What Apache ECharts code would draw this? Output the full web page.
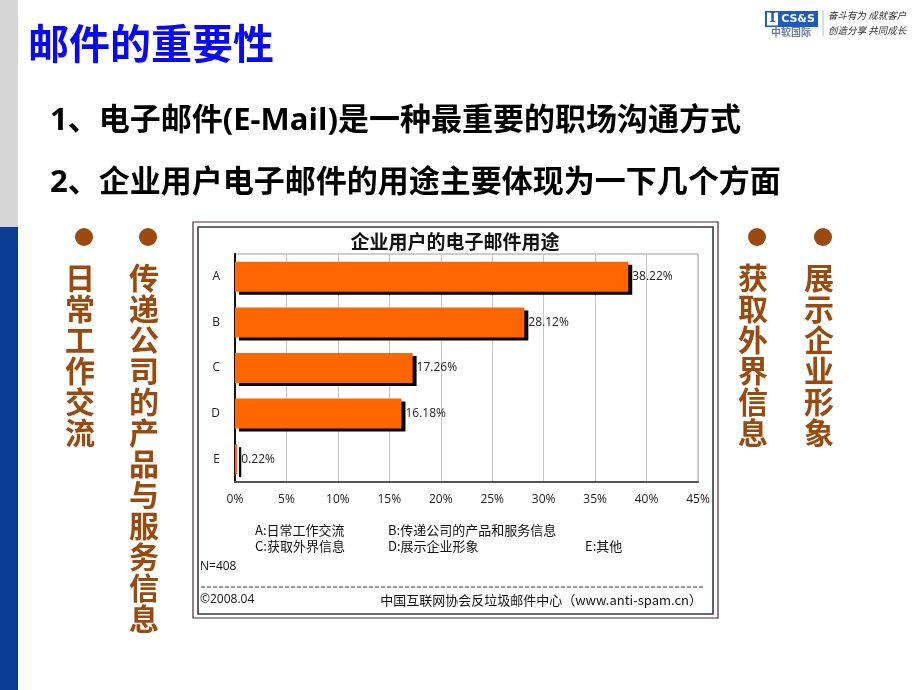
<!DOCTYPE html>
<html>
<head>
<meta charset="utf-8">
<script src="https://cdn.jsdelivr.net/npm/echarts@6/dist/echarts.min.js"></script>
<style>
  html, body { margin: 0; padding: 0; background: #fff; }
  #main { width: 920px; height: 690px; }
</style>
</head>
<body>
<div id="main"></div>
<script>
// chart data
const categories = ['A', 'B', 'C', 'D', 'E']
const values = [38.22, 28.12, 17.26, 16.18, 0.22]
const categoryNames = ['日常工作交流', '传递公司的产品和服务信息', '获取外界信息', '展示企业形象', '其他']
const xMin = 0
const xMax = 45
const xStep = 5
const sampleNote = 'N=408'
const chartTitle = '企业用户的电子邮件用途'

// slide text
const slideTitle = '邮件的重要性'
const points = ['1、电子邮件(E-Mail)是一种最重要的职场沟通方式', '2、企业用户电子邮件的用途主要体现为一下几个方面']
const sideLabels = ['日常工作交流', '传递公司的产品与服务信息', '获取外界信息', '展示企业形象']

const CJK = "'Noto Sans CJK SC', sans-serif"
const MIXED = "'Open Sans', 'Noto Sans CJK SC', sans-serif"
const BROWN = '#9a4a0e'

const myChart = echarts.init(document.getElementById('main'), null, { renderer: 'canvas' })

const graphics = []

// left strip
graphics.push({ type: 'rect', shape: { x: 0, y: 0, width: 18, height: 227 }, style: { fill: '#d6d6d6' } })
graphics.push({ type: 'rect', shape: { x: 0, y: 227, width: 18, height: 463 }, style: { fill: '#0b3d94' } })

// slide title + points
graphics.push({
  type: 'text', x: 28, y: 43,
  style: { text: slideTitle, font: `bold 41px ${CJK}`, fill: '#0a0af0', verticalAlign: 'middle' },
})
points.forEach((p, i) => {
  graphics.push({
    type: 'text', x: 50, y: 121 + i * 62,
    style: { text: p, font: `bold 31px ${MIXED}`, fill: '#000', verticalAlign: 'middle' },
  })
})

// logo (rough)
graphics.push({ type: 'rect', shape: { x: 765, y: 11, width: 53, height: 16 }, style: { fill: '#1d5cb8' } })
graphics.push({ type: 'rect', shape: { x: 767, y: 12.5, width: 11, height: 13 }, style: { fill: '#fff' } })
graphics.push({ type: 'text', x: 772.5, y: 19, style: { text: 'I', font: `bold 13px 'DejaVu Serif'`, fill: '#1d5cb8', align: 'center', verticalAlign: 'middle' } })
graphics.push({ type: 'text', x: 798, y: 19.5, style: { text: 'CS&S', font: `bold 11px 'DejaVu Sans'`, fill: '#fff', align: 'center', verticalAlign: 'middle' } })
graphics.push({ type: 'text', x: 791, y: 32, style: { text: '中软国际', font: `bold 10px ${CJK}`, fill: '#6f7f99', align: 'center', verticalAlign: 'middle' } })
graphics.push({ type: 'line', shape: { x1: 823, y1: 10, x2: 823, y2: 36 }, style: { stroke: '#bbb', lineWidth: 1 } })
graphics.push({ type: 'text', x: 828, y: 15, style: { text: '奋斗有为 成就客户', font: `italic 9.5px ${CJK}`, fill: '#333', verticalAlign: 'middle' } })
graphics.push({ type: 'text', x: 828, y: 30, style: { text: '创造分享 共同成长', font: `italic 9.5px ${CJK}`, fill: '#333', verticalAlign: 'middle' } })

// side columns with bullets
const sideX = [80, 144, 753, 819]
sideLabels.forEach((lab, i) => {
  graphics.push({ type: 'circle', shape: { cx: sideX[i] + 4, cy: 237, r: 9 }, style: { fill: BROWN } })
  graphics.push({
    type: 'text', x: sideX[i], y: 262,
    style: {
      text: lab.split('').join('\n'), font: `bold 30px ${CJK}`, lineHeight: 31,
      fill: BROWN, align: 'center', verticalAlign: 'top',
    },
  })
})

// chart frame
graphics.push({ type: 'rect', shape: { x: 193, y: 222, width: 525, height: 396 }, style: { fill: 'none', stroke: '#4a2b3c', lineWidth: 1.2 } })
graphics.push({ type: 'rect', shape: { x: 198, y: 227, width: 515, height: 387 }, style: { fill: 'none', stroke: '#3a3a3a', lineWidth: 1.6 } })
graphics.push({
  type: 'text', x: 455, y: 242,
  style: { text: chartTitle, font: `bold 19px ${CJK}`, fill: '#111', align: 'center', verticalAlign: 'middle' },
})

// legend of categories
const legendPos = [[255, 530], [388, 530], [255, 546], [388, 546], [585, 546]]
categories.forEach((c, i) => {
  graphics.push({
    type: 'text', x: legendPos[i][0], y: legendPos[i][1],
    style: { text: `${c}:${categoryNames[i]}`, font: `13px ${CJK}`, fill: '#111', verticalAlign: 'middle' },
  })
})
graphics.push({ type: 'text', x: 200, y: 567, style: { text: sampleNote, font: `12px ${MIXED}`, fill: '#111', verticalAlign: 'middle' } })
graphics.push({ type: 'line', shape: { x1: 201, y1: 587, x2: 704, y2: 587 }, style: { stroke: '#333', lineWidth: 1, lineDash: [4, 2] } })
graphics.push({ type: 'text', x: 200, y: 600, style: { text: '©2008.04', font: `12px ${MIXED}`, fill: '#111', verticalAlign: 'middle' } })
graphics.push({
  type: 'text', x: 702, y: 600,
  style: { text: '中国互联网协会反垃圾邮件中心（www.anti-spam.cn）', font: `13px ${CJK}`, fill: '#111', align: 'right', verticalAlign: 'middle' },
})

const options = {
  backgroundColor: '#fff',
  animation: false,
  grid: {
    left: 235,
    right: 222,
    top: 254,
    bottom: 208,
    show: true,
    backgroundColor: '#fff',
    borderColor: '#9a9a9a',
    borderWidth: 1,
  },
  xAxis: {
    type: 'value',
    min: xMin,
    max: xMax,
    interval: xStep,
    axisLine: { show: true, lineStyle: { color: '#555', width: 2 } },
    axisTick: { show: false },
    splitLine: { show: true, lineStyle: { color: '#c6c6c6', width: 1 } },
    axisLabel: { formatter: '{value}%', color: '#222', fontSize: 12, margin: 12, fontFamily: MIXED },
  },
  yAxis: {
    type: 'category',
    data: categories,
    inverse: true,
    axisLine: { show: true, lineStyle: { color: '#111', width: 2 } },
    axisTick: { show: false },
    axisLabel: { color: '#222', fontSize: 12, margin: 15, fontFamily: MIXED },
  },
  series: [{
    type: 'bar',
    data: values,
    barWidth: 30,
    itemStyle: {
      color: '#ff6600',
      borderWidth: 0,
      shadowColor: '#000',
      shadowBlur: 0,
      shadowOffsetX: 4,
      shadowOffsetY: 3,
    },
    label: {
      show: true,
      position: 'right',
      distance: 4,
      formatter: p => `${p.value}%`,
      color: '#222',
      fontSize: 12,
      fontFamily: MIXED,
    },
  }],
  graphic: graphics,
}

myChart.setOption(options)
</script>
</body>
</html>
